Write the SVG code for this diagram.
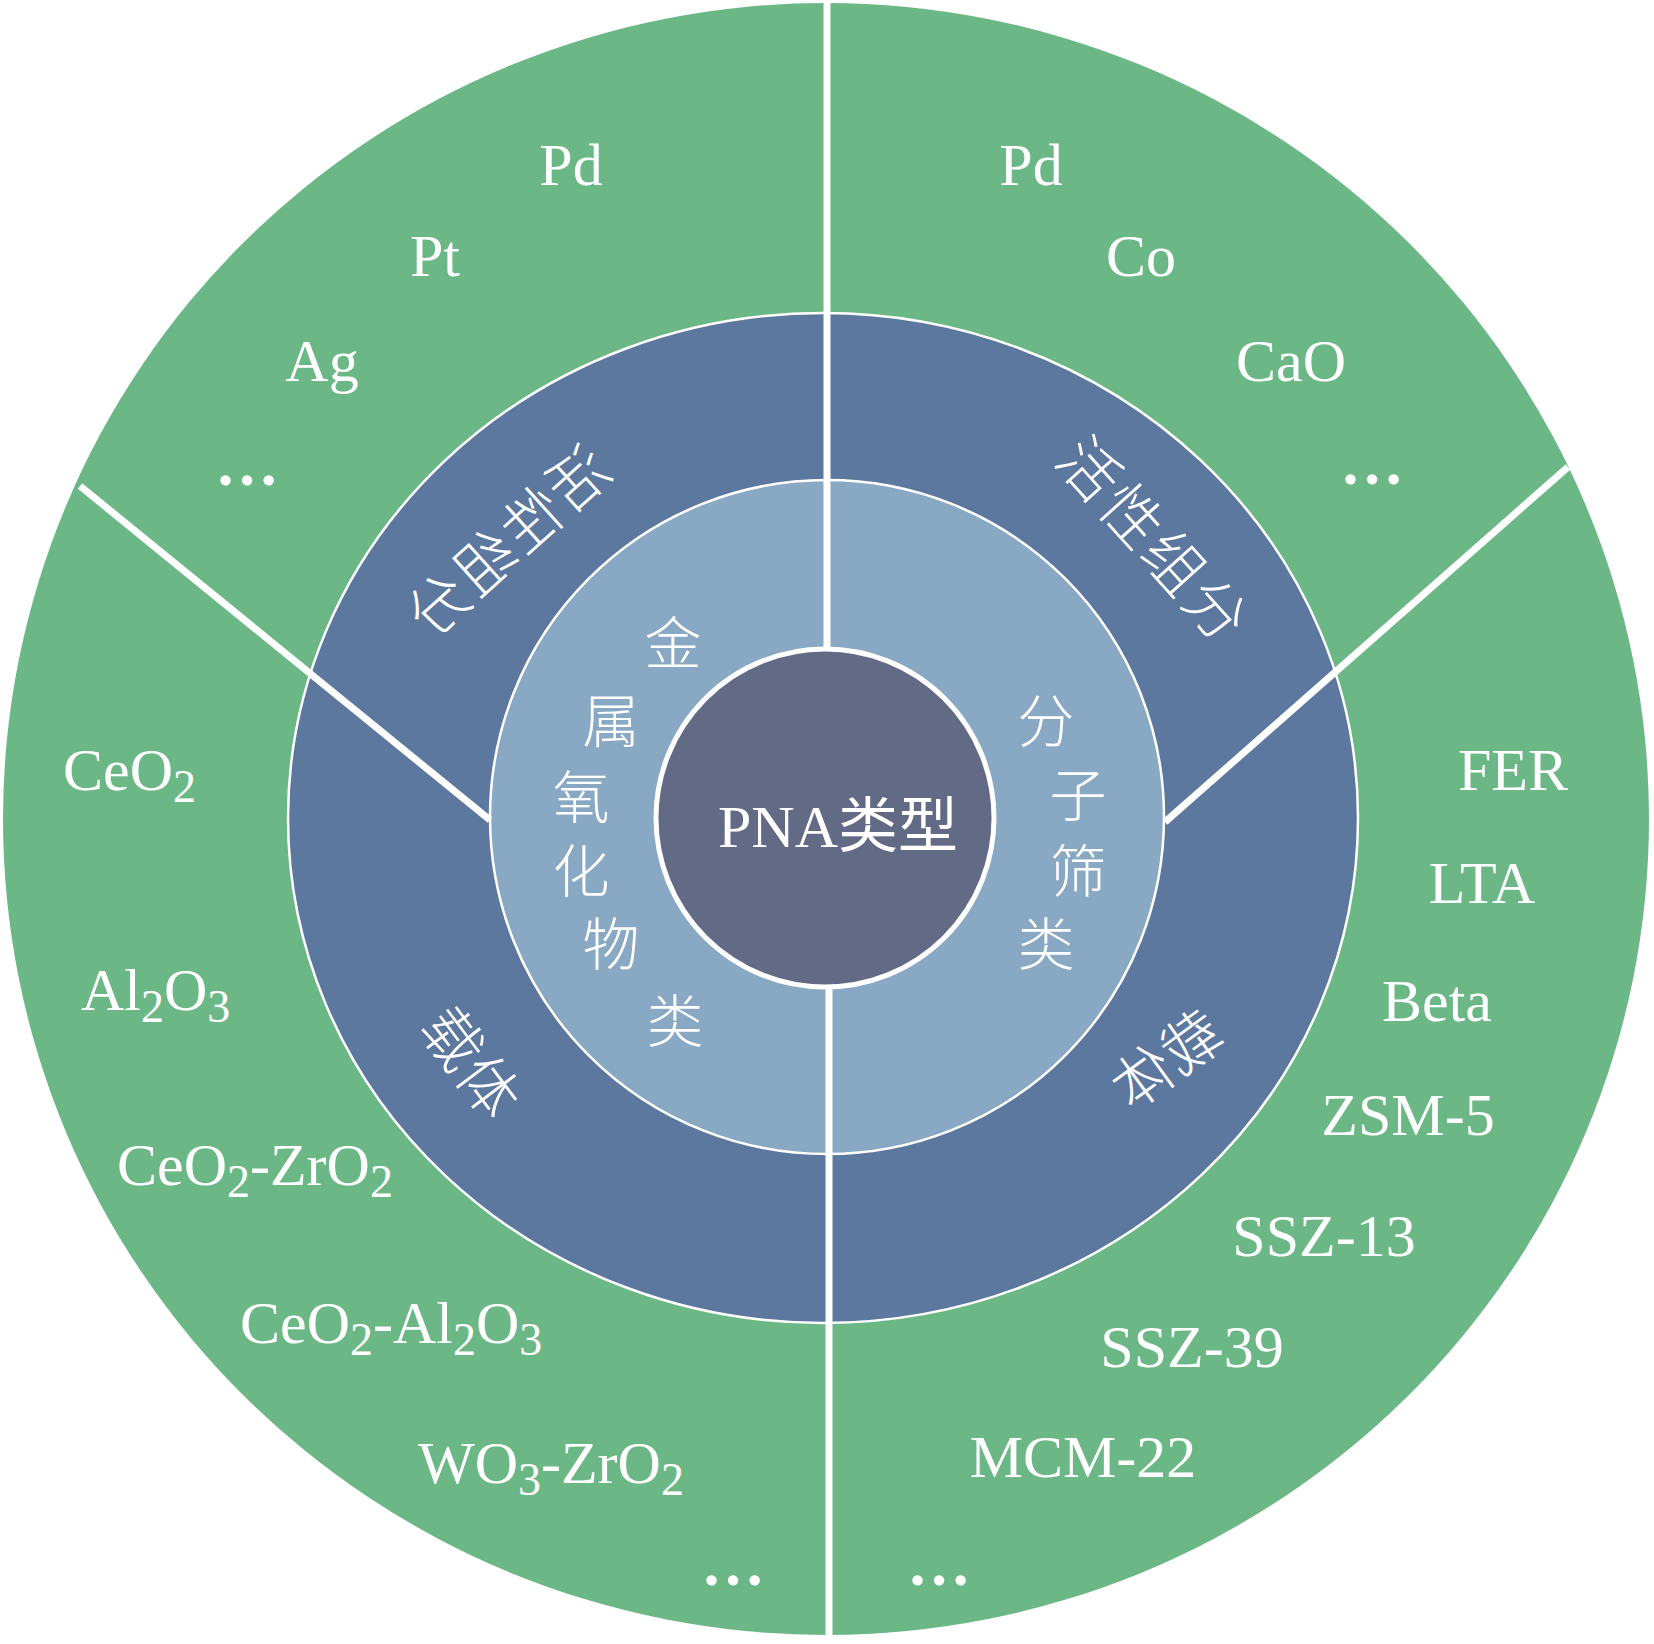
<svg xmlns="http://www.w3.org/2000/svg" width="1654" height="1644" viewBox="0 0 1654 1644">
<style>
.lat{font-family:"Liberation Serif","Times New Roman","Noto Sans CJK SC",serif;font-size:60px;fill:#fff;}
.sub{font-size:46px;}
.mid{text-anchor:middle;}
.dots{font-weight:bold;font-size:64px;}
.cjk{font-family:"Noto Sans CJK SC","Noto Sans CJK TC",sans-serif;fill:#fff;text-anchor:middle;font-weight:300;}
.c58{font-size:57px;}
.c60{font-size:60px;}
.wl{stroke:#fff;stroke-width:7;fill:none;}
</style>
<rect width="1654" height="1644" fill="#fff"/>
<g id="rings">
<ellipse id="outer-ring" cx="826" cy="819" rx="823" ry="816" fill="#6BB886"/>
<ellipse id="middle-ring" cx="823" cy="818" rx="535" ry="505" fill="#5C789E" stroke="#fff" stroke-width="2.5"/>
<circle id="inner-ring" cx="827" cy="817" r="337" fill="#88A8C3" stroke="#fff" stroke-width="2.5"/>
</g>
<g id="connectors" class="wl">
<line x1="490" y1="820" x2="80" y2="486"/>
<line x1="1165" y1="822" x2="1568" y2="467"/>
<line x1="827" y1="2" x2="827" y2="700"/>
<line x1="829" y1="940" x2="829" y2="1642"/>
</g>
<g id="core">
<circle cx="825" cy="818" r="169" fill="#636A86" stroke="#fff" stroke-width="5"/>
<text class="lat mid" x="838" y="847">PNA类型</text>
</g>
<g id="metal-oxide">
<text class="cjk c58" x="673" y="664">金</text>
<text class="cjk c58" x="611" y="742">属</text>
<text class="cjk c58" x="581" y="818">氧</text>
<text class="cjk c58" x="581" y="892">化</text>
<text class="cjk c58" x="611" y="965">物</text>
<text class="cjk c58" x="675" y="1042">类</text>
</g>
<g id="zeolite">
<text class="cjk c58" x="1046" y="742">分</text>
<text class="cjk c58" x="1078" y="816">子</text>
<text class="cjk c58" x="1078" y="892">筛</text>
<text class="cjk c58" x="1046" y="965">类</text>
</g>
<g id="mo-active">
<text class="cjk c60" transform="translate(508,543) scale(-1,1) rotate(42)" y="21" letter-spacing="3">活性组分</text>
</g>
<g id="zeo-active">
<text class="cjk c60" transform="translate(1153,541) rotate(48)" y="21" letter-spacing="3">活性组分</text>
</g>
<g id="mo-support">
<text class="cjk c60" transform="translate(470,1063) rotate(53)" y="21">载体</text>
</g>
<g id="zeo-support">
<text class="cjk c60" transform="translate(1168,1060) scale(-1,1) rotate(36)" y="21">载体</text>
</g>
<g id="mo-active-list">
<text class="lat mid" x="571" y="185">Pd</text>
<text class="lat mid" x="435" y="276">Pt</text>
<text class="lat mid" x="322" y="381">Ag</text>
<text class="lat mid dots" x="247" y="485">…</text>
</g>
<g id="zeo-active-list">
<text class="lat mid" x="1031" y="185">Pd</text>
<text class="lat mid" x="1141" y="276">Co</text>
<text class="lat mid" x="1291" y="381">CaO</text>
<text class="lat mid dots" x="1372" y="484">…</text>
</g>
<g id="zeo-support-list">
<text class="lat mid" x="1513" y="790">FER</text>
<text class="lat mid" x="1482" y="903">LTA</text>
<text class="lat mid" x="1437" y="1021">Beta</text>
<text class="lat mid" x="1408" y="1135">ZSM-5</text>
<text class="lat mid" x="1324" y="1256">SSZ-13</text>
<text class="lat mid" x="1192" y="1367">SSZ-39</text>
<text class="lat mid" x="1083" y="1477">MCM-22</text>
<text class="lat mid dots" x="939" y="1585">…</text>
</g>
<g id="mo-support-list">
<text class="lat" x="63" y="790">CeO<tspan class="sub" dy="12">2</tspan></text>
<text class="lat" x="81" y="1010">Al<tspan class="sub" dy="12">2</tspan><tspan dy="-12">O</tspan><tspan class="sub" dy="12">3</tspan></text>
<text class="lat" x="117" y="1185">CeO<tspan class="sub" dy="12">2</tspan><tspan dy="-12">-ZrO</tspan><tspan class="sub" dy="12">2</tspan></text>
<text class="lat" x="240" y="1343">CeO<tspan class="sub" dy="12">2</tspan><tspan dy="-12">-Al</tspan><tspan class="sub" dy="12">2</tspan><tspan dy="-12">O</tspan><tspan class="sub" dy="12">3</tspan></text>
<text class="lat" x="418" y="1483">WO<tspan class="sub" dy="12">3</tspan><tspan dy="-12">-ZrO</tspan><tspan class="sub" dy="12">2</tspan></text>
<text class="lat mid dots" x="733" y="1585">…</text>
</g>
</svg>
